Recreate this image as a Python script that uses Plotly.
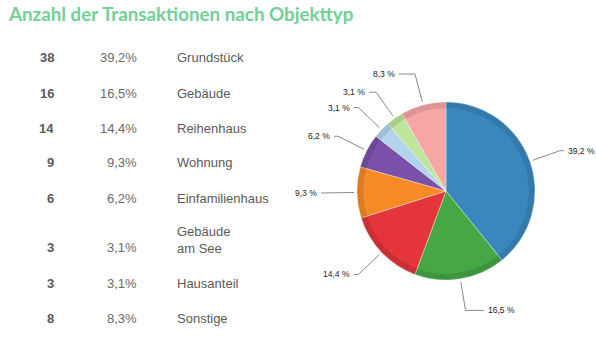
import math
import plotly.graph_objects as go

# ---- data ----
categories = ["Grundstück", "Gebäude", "Reihenhaus", "Wohnung", "Einfamilienhaus",
              "Gebäude<br>am See", "Hausanteil", "Sonstige"]
counts = [38, 16, 14, 9, 6, 3, 3, 8]
percent_labels = [39.2, 16.5, 14.4, 9.3, 6.2, 3.1, 3.1, 8.3]
colors = ["#3a87c0", "#45a845", "#e3353a", "#f68a26", "#7b50a8", "#b3d3ea", "#bde59b", "#f8a5a5"]
title = "Anzahl der Transaktionen nach Objekttyp"

W, H = 596, 344
total = sum(counts)

def de(v):
    return f"{v:.1f}".replace(".", ",")

def px(x):
    return x / W

def py(y):
    return 1 - y / H

# pie geometry (pixels)
CX, CY, R = 446, 191, 89
dom = dict(x=[px(CX - R), px(CX + R)], y=[py(CY + R), py(CY - R)])

fig = go.Figure()
fig.add_trace(go.Pie(
    values=counts, labels=categories, sort=False, direction="clockwise", rotation=0,
    marker=dict(colors=colors, line=dict(color="rgba(255,255,255,0.6)", width=0.6)),
    textinfo="none", hoverinfo="label+percent", showlegend=False, domain=dom,
))
# subtle darker rim to mimic the shading
fig.add_trace(go.Pie(
    values=counts, labels=categories, sort=False, direction="clockwise", rotation=0, hole=0.93,
    marker=dict(colors=["rgba(0,0,0,0.10)"] * len(counts), line=dict(width=0)),
    textinfo="none", hoverinfo="skip", showlegend=False, domain=dom,
))

annotations = []
shapes = []

# title
annotations.append(dict(text=f"<b>{title}</b>", x=px(6), y=py(14), xref="paper", yref="paper",
                        xanchor="left", yanchor="middle", showarrow=False,
                        font=dict(family="Lato", size=18.8, color="#72cf97")))

# table rows
extra = 0
for i, (cat, c, s) in enumerate(zip(categories, counts, percent_labels)):
    nlines = cat.count("<br>") + 1
    extra += (nlines - 1) * 15
    yrow = 58 + 35 * i + extra
    annotations.append(dict(text=f"<b>{c}</b>", x=px(56), y=py(yrow), xref="paper", yref="paper",
                            xanchor="right", yanchor="middle", showarrow=False,
                            font=dict(family="Liberation Sans, Arial", size=13, color="#5a5a5a")))
    annotations.append(dict(text=de(s) + "%", x=px(139), y=py(yrow), xref="paper", yref="paper",
                            xanchor="right", yanchor="middle", showarrow=False,
                            font=dict(family="Liberation Sans, Arial", size=13, color="#6a6a6a")))
    ylab = yrow - (nlines - 1) * 16 / 2
    annotations.append(dict(text=cat, x=px(175), y=py(ylab), xref="paper", yref="paper",
                            xanchor="left", yanchor="middle", showarrow=False, align="left",
                            font=dict(family="Liberation Sans, Arial", size=13, color="#5a5a5a")))

# pie outside labels with leader lines
cum = 0
for c, s in zip(counts, percent_labels):
    mid = (cum + c / 2) / total * 2 * math.pi
    cum += c
    sx, sy = math.sin(mid), -math.cos(mid)
    x0, y0 = CX + (R + 3) * sx, CY + (R + 3) * sy
    x1, y1 = CX + (R + 32) * sx, CY + (R + 32) * sy
    side = 1 if sx >= 0 else -1
    hlen = 4 + 16 * abs(math.cos(mid)) ** 8
    x2 = x1 + side * hlen
    shapes.append(dict(type="path", xref="paper", yref="paper",
                       path=f"M {px(x0)},{py(y0)} L {px(x1)},{py(y1)} L {px(x2)},{py(y1)}",
                       line=dict(color="#8a8a8a", width=1)))
    annotations.append(dict(text=de(s) + " %", x=px(x2 + side * 2), y=py(y1), xref="paper", yref="paper",
                            xanchor="left" if side > 0 else "right", yanchor="middle", showarrow=False,
                            font=dict(family="Liberation Sans, Arial", size=8.5, color="#222")))

fig.update_layout(width=W, height=H, margin=dict(l=0, r=0, t=0, b=0),
                  paper_bgcolor="white", plot_bgcolor="white",
                  annotations=annotations, shapes=shapes)
fig.write_html("out.html")
